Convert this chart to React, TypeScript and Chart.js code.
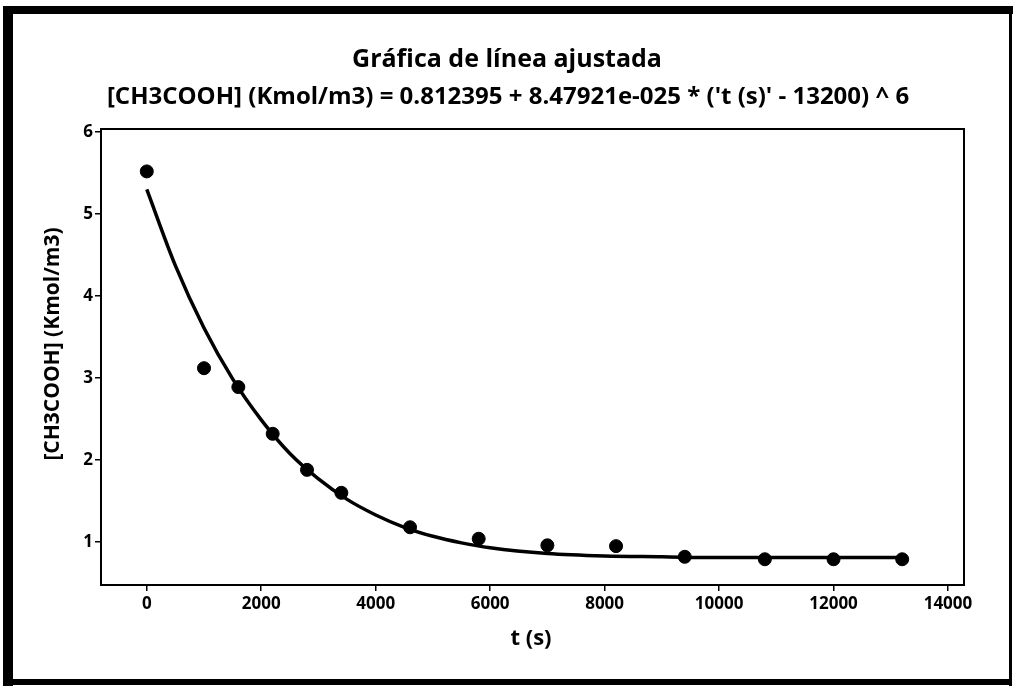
import React, { useEffect, useRef } from "react";
import { Chart, registerables } from "chart.js";

Chart.register(...registerables);

// ---- data ----
const timeS = [0, 1000, 1600, 2200, 2800, 3400, 4600, 5800, 7000, 8200, 9400, 10800, 12000, 13200];
const concentration = [5.52, 3.12, 2.89, 2.32, 1.88, 1.6, 1.18, 1.04, 0.96, 0.95, 0.82, 0.79, 0.79, 0.79];

const fitTime = [0, 500, 1000, 1500, 2000, 2500, 3000, 3500, 4000, 4500, 5000, 5500, 6000, 7000, 8000, 9000, 10000, 11000, 12000, 13200];
const fitConcentration = [5.3, 4.37, 3.61, 2.99, 2.49, 2.08, 1.77, 1.52, 1.33, 1.18, 1.07, 0.99, 0.93, 0.86, 0.83, 0.82, 0.81, 0.81, 0.81, 0.81];

const xTickValues = [0, 2000, 4000, 6000, 8000, 10000, 12000, 14000];
const yTickValues = [1, 2, 3, 4, 5, 6];

const titleText = "Gráfica de línea ajustada";
const subtitleText = "[CH3COOH] (Kmol/m3) = 0.812395 + 8.47921e-025 * ('t (s)' - 13200) ^ 6";
const xAxisTitle = "t (s)";
const yAxisTitle = "[CH3COOH] (Kmol/m3)";

const FONT = "'Open Sans', 'Noto Sans', 'DejaVu Sans', sans-serif";

const framePlugin = {
  id: "framePlugin",
  beforeDraw(chart: any) {
    const ctx = chart.ctx;
    ctx.save();
    ctx.fillStyle = "#ffffff";
    ctx.fillRect(0, 0, chart.width, chart.height);
    ctx.restore();
  },
  afterDraw(chart: any) {
    const ctx = chart.ctx;
    const a = chart.chartArea;
    ctx.save();
    // plot box
    ctx.strokeStyle = "#000";
    ctx.lineWidth = 2;
    ctx.strokeRect(a.left, a.top, a.right - a.left, a.bottom - a.top);
    // outer frame
    ctx.fillStyle = "#000";
    ctx.fillRect(3, 6, 10, 680);
    ctx.fillRect(3, 6, 1010, 8);
    ctx.fillRect(1009, 6, 3, 680);
    ctx.fillRect(3, 679, 1009, 6);
    // texts
    ctx.fillStyle = "#000";
    ctx.textAlign = "center";
    ctx.textBaseline = "middle";
    ctx.font = `bold 25px ${FONT}`;
    ctx.fillText(titleText, 507, 60);
    ctx.font = `bold 24px ${FONT}`;
    ctx.fillText(subtitleText, 508, 97);
    ctx.font = `bold 22px ${FONT}`;
    ctx.fillText(xAxisTitle, 531, 639);
    ctx.font = `bold 21px ${FONT}`;
    ctx.translate(53, 344);
    ctx.rotate(-Math.PI / 2);
    ctx.fillText(yAxisTitle, 0, 0);
    ctx.restore();
  },
};

export default function App() {
  const ref = useRef<HTMLCanvasElement | null>(null);

  useEffect(() => {
    if (!ref.current) return;
    const chart = new Chart(ref.current, {
      type: "scatter",
      data: {
        datasets: [
          {
            label: "points",
            data: timeS.map((t, i) => ({ x: t, y: concentration[i] })),
            backgroundColor: "#000",
            borderColor: "#000",
            pointRadius: 6.5,
            showLine: false,
            order: 0,
          },
          {
            label: "fit",
            data: fitTime.map((t, i) => ({ x: t, y: fitConcentration[i] })),
            borderColor: "#000",
            backgroundColor: "#000",
            borderWidth: 3.5,
            pointRadius: 0,
            showLine: true,
            cubicInterpolationMode: "monotone",
            order: 1,
          },
        ],
      },
      options: {
        responsive: false,
        animation: false,
        layout: { padding: { left: 0, top: 129, right: 53, bottom: 0 } },
        plugins: {
          legend: { display: false },
          title: { display: false },
          tooltip: { enabled: false },
        },
        scales: {
          x: {
            type: "linear",
            min: -800,
            max: 14280,
            afterBuildTicks: (s: any) => {
              s.ticks = xTickValues.map((v) => ({ value: v }));
            },
            afterFit: (s: any) => {
              s.height = 106;
            },
            border: { display: false },
            grid: {
              display: true,
              drawOnChartArea: false,
              drawTicks: true,
              tickLength: 6,
              color: "#000",
              lineWidth: 1.5,
            },
            ticks: {
              color: "#000",
              padding: 3,
              maxRotation: 0,
              font: { family: FONT, size: 17, weight: "bold" },
              callback: (v: any) => String(v),
            },
          },
          y: {
            type: "linear",
            min: 0.476,
            max: 6.037,
            afterBuildTicks: (s: any) => {
              s.ticks = yTickValues.map((v) => ({ value: v }));
            },
            afterFit: (s: any) => {
              s.width = 101;
            },
            border: { display: false },
            grid: {
              display: true,
              drawOnChartArea: false,
              drawTicks: true,
              tickLength: 6,
              color: "#000",
              lineWidth: 1.5,
            },
            ticks: {
              color: "#000",
              padding: 2,
              font: { family: FONT, size: 17, weight: "bold" },
              callback: (v: any) => String(v),
            },
          },
        },
      },
      plugins: [framePlugin],
    } as any);
    return () => chart.destroy();
  }, []);

  return (
    <canvas
      ref={ref}
      width={1017}
      height={691}
      style={{ position: "absolute", left: 0, top: 0, display: "block" }}
    />
  );
}
